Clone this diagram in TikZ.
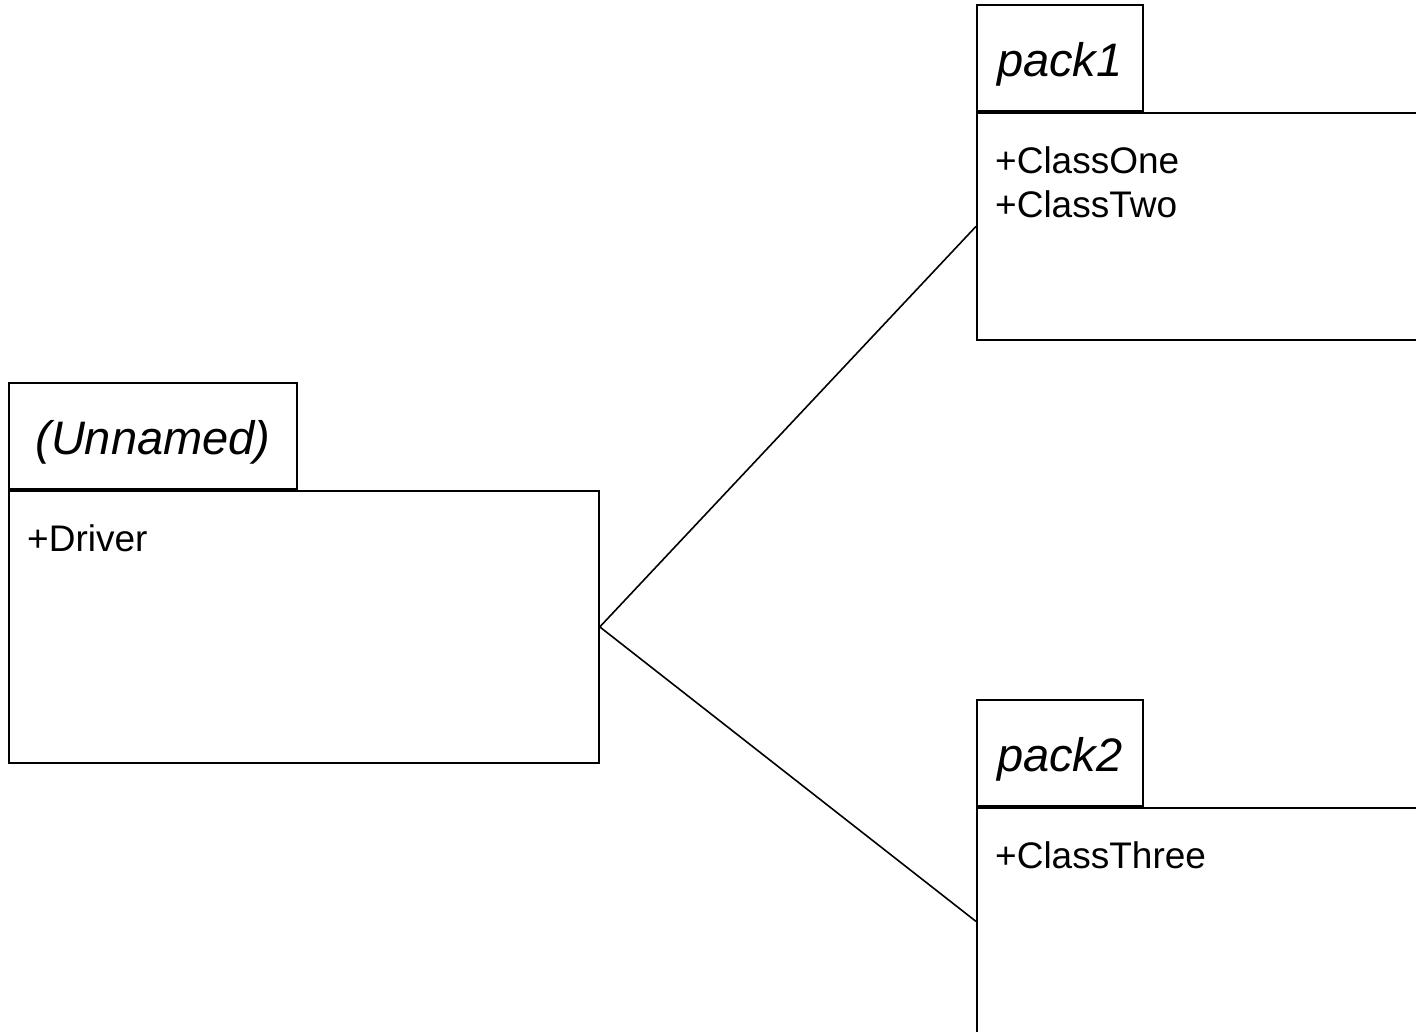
\documentclass[tikz,border=0pt]{standalone}
\usepackage{fontspec}
\setmainfont{Liberation Sans}
\usetikzlibrary{positioning}
\tikzset{
  pkgbody/.style={draw, line width=1.8pt, anchor=north west, inner sep=0pt},
  pkgtab/.style={draw, line width=1.8pt, anchor=south west, inner sep=0pt,
    font=\fontsize{47}{56}\selectfont\itshape, text height=37pt, text depth=0pt},
  members/.style={anchor=north west, inner sep=0pt, align=left,
    font=\fontsize{37}{44}\selectfont},
  dep/.style={line width=1.6pt}
}

\begin{document}
\begin{tikzpicture}[x=1pt, y=-1pt]
\clip (0,0) rectangle (1416,1031);
% package bodies, each tab sits on the top left corner
\node[pkgbody, minimum width=590pt, minimum height=272pt] (unnamed) at (8,490) {};
\node[pkgtab, minimum width=288pt, minimum height=106pt] (unnamedtab) at (unnamed.north west) {(Unnamed)};
\node[members] (unnamedlist) at ([shift={(19,34)}]unnamed.north west) {+Driver};

\node[pkgbody, minimum width=600pt, minimum height=227pt] (pack1) at (976,112) {};
\node[pkgtab, minimum width=166pt, minimum height=106pt] (pack1tab) at (pack1.north west) {pack1};
\node[members] (pack1list) at ([shift={(19,34)}]pack1.north west) {+ClassOne\\+ClassTwo};

\node[pkgbody, minimum width=600pt, minimum height=227pt] (pack2) at (976,807) {};
\node[pkgtab, minimum width=166pt, minimum height=106pt] (pack2tab) at (pack2.north west) {pack2};
\node[members] (pack2list) at ([shift={(19,34)}]pack2.north west) {+ClassThree};

% dependencies
\draw[dep] (unnamed.east) -- (pack1.west);
\draw[dep] (unnamed.east) -- (pack2.west);
\end{tikzpicture}
\end{document}
